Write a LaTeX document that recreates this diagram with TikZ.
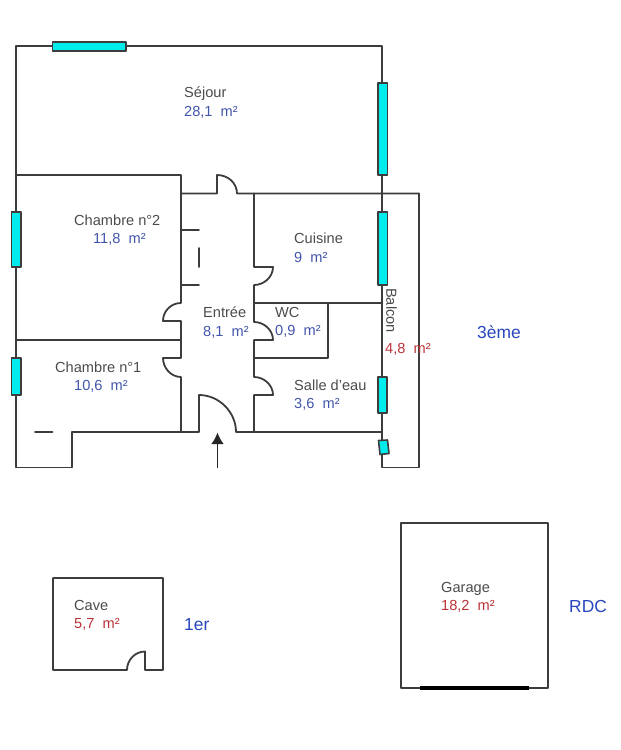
\documentclass[tikz,border=0pt]{standalone}
\usepackage{fontspec}
\setmainfont{Liberation Sans}
\usetikzlibrary{arrows.meta}

\definecolor{wallgray}{RGB}{60,60,60}
\definecolor{glass}{RGB}{0,235,235}
\definecolor{textgray}{RGB}{75,75,75}
\definecolor{areablue}{RGB}{65,85,170}
\definecolor{areared}{RGB}{185,50,55}
\definecolor{floorblue}{RGB}{40,70,190}

\tikzset{
	wall/.style={draw=wallgray,line width=1.8pt,line join=round,line cap=round},
	window/.style={draw=wallgray,fill=glass,line width=1.6pt,line join=round},
	room/.style={anchor=base west,inner sep=0pt,font=\fontsize{14.6}{16}\selectfont,text=textgray},
	bluearea/.style={room,text=areablue},
	redarea/.style={room,text=areared},
	floorname/.style={anchor=base west,inner sep=0pt,font=\fontsize{17.4}{20}\selectfont,text=floorblue},
}

\begin{document}
\begin{tikzpicture}[>=latex,x=1pt,y=-1pt]
\useasboundingbox (0,0) rectangle (621,750);

% outer walls, main floor
\draw[wall] (72,432) -- (72,467.5) -- (16,467.5) -- (16,46) -- (382,46) -- (382,467.5) -- (419,467.5) -- (419,193.5);
\draw[wall] (16,175) -- (181,175) -- (181,303)
	.. controls (171,303) and (163,311) .. (163,321) -- (181,321) -- (181,358) -- (163,358)
	.. controls (163,368) and (171,377) .. (181,377) -- (181,432);
\draw[wall] (16,340) -- (181,340);
\draw[wall] (181,193.5) -- (217,193.5) -- (217,175)
	.. controls (228,175) and (237,183) .. (237,193.5) -- (419,193.5);
\draw[wall] (72,432) -- (199,432) -- (199,395)
	.. controls (219,395) and (236,412) .. (236,432) -- (382,432);

% partitions
\draw[wall] (254,193.5) -- (254,267) -- (273,267)
	.. controls (273,277) and (264,285) .. (254,285) -- (254,322)
	.. controls (264,322) and (273,330) .. (273,340) -- (254,340) -- (254,377)
	.. controls (264,377) and (273,385) .. (273,395) -- (254,395) -- (254,432);
\draw[wall] (254,303) -- (382,303);
\draw[wall] (328,303) -- (328,358) -- (254,358);

% cupboard and small marks
\draw[wall] (181,230) -- (199,230);
\draw[wall] (199,248) -- (199,267);
\draw[wall] (181,285) -- (199,285);
\draw[wall] (35,432) -- (52.5,432);

% windows
\foreach \xa/\ya/\xb/\yb in {52.5/42/126/51,378/83/387.5/175,378/212/387.5/285,378/377/387/413,11.5/212/21/267,11.5/358/21/395}
	\draw[window] (\xa,\ya) rectangle (\xb,\yb);
\draw[window] (378.5,440.5) -- (387.5,440) -- (389,453.5) -- (380,454.5) -- cycle;

% entrance arrow
\coordinate (ArrowFoot) at (217.5,468);
\coordinate (ArrowTip) at (217.5,432.5);
\draw[-{Latex[length=11.5pt,width=12.5pt]},black!85,line width=1.6pt] (ArrowFoot) -- (ArrowTip);

% cave
\draw[wall] (127,670) -- (53,670) -- (53,578) -- (163,578) -- (163,670) -- (145,670) -- (145,651.5)
	.. controls (135,651.5) and (127,660) .. (127,670);

% garage
\draw[wall] (401,523) rectangle (548,688);
\draw[black,line width=4.5pt] (420,688) -- (529,688);

% labels
\node[room] (Sejour) at (184,97) {Séjour};
\node[bluearea] (SejourArea) at (184,116) {28,1\ \ m²};
\node[room] (Chambre2) at (74,225) {Chambre n°2};
\node[bluearea] (Chambre2Area) at (93,243) {11,8\ \ m²};
\node[room] (Cuisine) at (294,243) {Cuisine};
\node[bluearea] (CuisineArea) at (294,262) {9\ \ m²};
\node[room] (Entree) at (203,317) {Entrée};
\node[bluearea] (EntreeArea) at (203,336) {8,1\ \ m²};
\node[room] (WC) at (275,317) {WC};
\node[bluearea] (WCArea) at (275,335) {0,9\ \ m²};
\node[room] (Chambre1) at (55,372) {Chambre n°1};
\node[bluearea] (Chambre1Area) at (74,390) {10,6\ \ m²};
\node[room] (SalleEau) at (294,390) {Salle d'eau};
\node[bluearea] (SalleEauArea) at (294,408) {3,6\ \ m²};
\node[room,anchor=center,rotate=-90] (Balcon) at (391.5,310.5) {Balcon};
\node[redarea] (BalconArea) at (385,353) {4,8\ \ m²};
\node[room] (Cave) at (74,610) {Cave};
\node[redarea] (CaveArea) at (74,628) {5,7\ \ m²};
\node[room] (Garage) at (441,592) {Garage};
\node[redarea] (GarageArea) at (441,610) {18,2\ \ m²};

\node[floorname] (Third) at (477,338) {3ème};
\node[floorname] (First) at (184,630) {1er};
\node[floorname] (Ground) at (569,612) {RDC};
\end{tikzpicture}
\end{document}
